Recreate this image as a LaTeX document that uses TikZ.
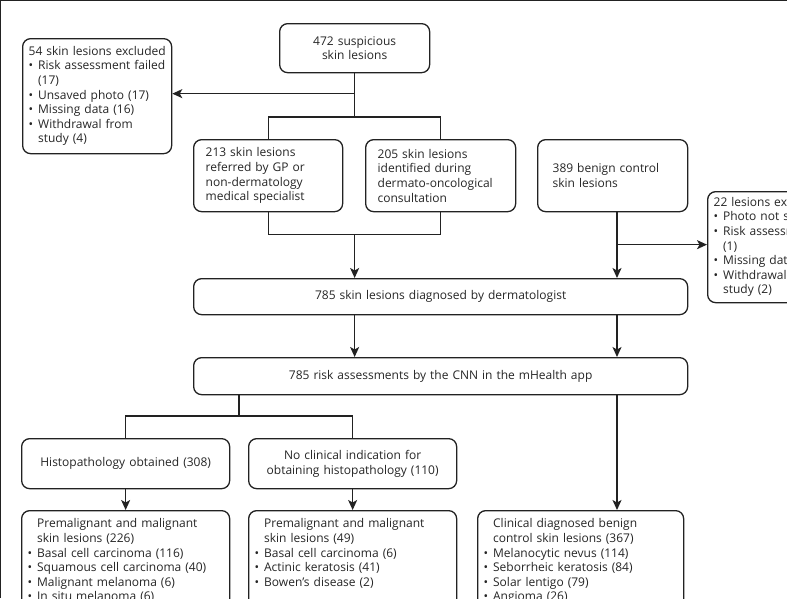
\documentclass[tikz,border=0pt]{standalone}
\usepackage{fontspec}
\setmainfont{Open Sans}
\usetikzlibrary{arrows.meta}
\definecolor{ln}{HTML}{222222}
\definecolor{tx}{HTML}{262626}
\newcommand{\fsz}{\fontsize{12}{14.6}\selectfont}
\newcommand{\blist}[1]{\begin{tabular}{@{}p{9.5pt}@{}l@{}}#1\end{tabular}}
\newcommand{\hd}[1]{\multicolumn{2}{@{}l@{}}{#1}}
\begin{document}
\begin{tikzpicture}[x=1pt,y=-1pt,
  box/.style={draw=ln, line width=1.3pt, rounded corners=8pt, anchor=north west,
    text=tx, font=\fsz, inner ysep=0pt},
  cbox/.style={box, align=center},
  lbox/.style={box, align=left},
  conn/.style={draw=ln, line width=1.3pt},
  arr/.style={conn, -{Stealth[length=10pt,width=9pt,inset=2.5pt]}}]
\useasboundingbox (0,0) rectangle (787,598);
\begin{scope}
\clip (0,0) rectangle (787,598);
\fill[white] (0,0) rectangle (787,598);
\draw[ln, line width=1.4pt] (0.7,598) -- (0.7,0.7) -- (787,0.7);
\coordinate (rx) at (617,0);
\coordinate (lx) at (239,0);
% boxes
\node[cbox, minimum width=150, minimum height=49, text width=138, inner xsep=6pt] (top) at (279,23) {472 suspicious\\skin lesions};
\node[lbox, minimum width=149, minimum height=115, text width=137, inner xsep=6pt] (excl1) at (22,38)
 {\blist{\hd{54 skin lesions excluded}\\ \textbullet & Risk assessment failed\\ & (17)\\ \textbullet & Unsaved photo (17)\\ \textbullet & Missing data (16)\\ \textbullet & Withdrawal from\\ & study (4)}};
\node[lbox, minimum width=149, minimum height=72, text width=125, inner xsep=12pt] (ref) at (193,139)
 {213 skin lesions\\referred by GP or\\non-dermatology\\medical specialist};
\node[lbox, minimum width=150, minimum height=72, text width=126, inner xsep=12pt] (derm) at (365,139)
 {205 skin lesions\\identified during\\dermato-oncological\\consultation};
\node[lbox, minimum width=150, minimum height=72, text width=120, inner xsep=15pt] (benign) at (537,139)
 {389 benign control\\skin lesions};
\node[lbox, minimum width=150, minimum height=111, text width=138, inner xsep=6pt] (excl2) at (707,191)
 {\blist{\hd{22 lesions excluded}\\ \textbullet & Photo not saved (10)\\ \textbullet & Risk assessment failed\\ & (1)\\ \textbullet & Missing data (9)\\ \textbullet & Withdrawal from\\ & study (2)}};
\node[cbox, minimum width=494, minimum height=36, text width=480, inner xsep=7pt] (diag) at (193,278)
 {785 skin lesions diagnosed by dermatologist};
\node[cbox, minimum width=494, minimum height=37, text width=480, inner xsep=7pt] (cnn) at (193,357)
 {785 risk assessments by the CNN in the mHealth app};
\node[cbox, minimum width=208, minimum height=50, text width=196, inner xsep=6pt] (histo) at (21,438)
 {Histopathology obtained (308)};
\node[cbox, minimum width=208, minimum height=50, text width=196, inner xsep=6pt] (noclin) at (248,438)
 {No clinical indication for\\obtaining histopathology (110)};
\node[lbox, minimum width=208, text width=196, inner xsep=6pt, inner ysep=7pt] (b1) at (21,510)
 {\blist{ & Premalignant and malignant\\ & skin lesions (226)\\ \textbullet & Basal cell carcinoma (116)\\ \textbullet & Squamous cell carcinoma (40)\\ \textbullet & Malignant melanoma (6)\\ \textbullet & In situ melanoma (6)\\ & }};
\node[lbox, minimum width=208, text width=196, inner xsep=6pt, inner ysep=7pt] (b2) at (248,510)
 {\blist{ & Premalignant and malignant\\ & skin lesions (49)\\ \textbullet & Basal cell carcinoma (6)\\ \textbullet & Actinic keratosis (41)\\ \textbullet & Bowen's disease (2)\\ & \\ & }};
\node[lbox, minimum width=206, text width=194, inner xsep=6pt, inner ysep=7pt] (b3) at (477,510)
 {\blist{ & Clinical diagnosed benign\\ & control skin lesions (367)\\ \textbullet & Melanocytic nevus (114)\\ \textbullet & Seborrheic keratosis (84)\\ \textbullet & Solar lentigo (79)\\ \textbullet & Angioma (26)\\ & }};
% connectors
\draw[conn] (top.south) -- ++(0,45);
\draw[arr] ([yshift=2.5pt]excl1.east -| top.south) -- ([yshift=2.5pt]excl1.east);
\draw[conn] (ref.north) -- ++(0,-22) -| (derm.north);
\draw[conn] (ref.south) -- ++(0,22) coordinate (m1) -| (derm.south);
\draw[arr] (m1 -| top.south) -- (diag.north -| top.south);
\draw[arr] (benign.south -| rx) -- (diag.north -| rx);
\draw[arr] ([yshift=2.5pt]excl2.west -| rx) -- ([yshift=2.5pt]excl2.west);
\draw[arr] (diag.south -| top.south) -- (cnn.north -| top.south);
\draw[arr] (diag.south -| rx) -- (cnn.north -| rx);
\draw[conn] (cnn.south -| lx) -- ++(0,22);
\draw[conn] (histo.north) -- ++(0,-22) -| (noclin.north);
\draw[arr] (histo.south) -- (b1.north -| histo.south);
\draw[arr] (noclin.south) -- (b2.north -| noclin.south);
\draw[arr] (cnn.south -| rx) -- (b3.north -| rx);
\end{scope}
\end{tikzpicture}
\end{document}
